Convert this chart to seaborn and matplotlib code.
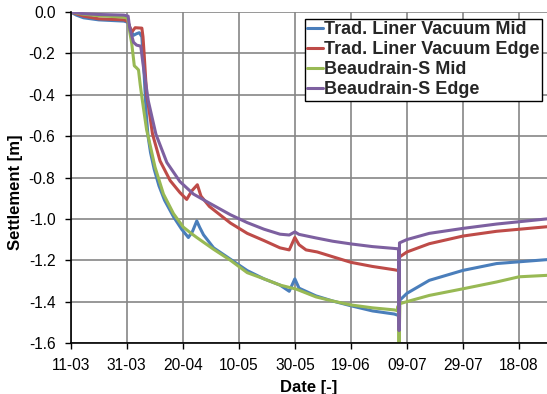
import numpy as np
import pandas as pd
import matplotlib
matplotlib.use("Agg")
import matplotlib.pyplot as plt
import matplotlib.ticker as mticker
import seaborn as sns

# ---- data (days after 11-03, settlement in m) ----
series_names = ["Trad. Liner Vacuum Mid", "Trad. Liner Vacuum Edge",
                "Beaudrain-S Mid", "Beaudrain-S Edge"]

blue_days = [0, 2, 4.6, 10, 19, 20.5, 21.5, 22.4, 23.5, 24.5, 25.4, 26.2, 27, 27.6, 28.5,
             29.8, 31.5, 33.5, 36.7, 39.6, 42, 43.5, 45, 46, 47.4, 51, 57, 63, 69, 74.7,
             78, 80, 81.5, 87.5, 93.5, 100, 107.7, 115.5, 117, 117.4, 120, 128, 140, 152, 170]
blue_vals = [0, -0.015, -0.028, -0.038, -0.044, -0.05, -0.09, -0.113, -0.105, -0.1, -0.12,
             -0.3, -0.5, -0.6, -0.68, -0.76, -0.84, -0.91, -0.99, -1.05, -1.09, -1.06, -1.01,
             -1.04, -1.077, -1.14, -1.195, -1.25, -1.29, -1.32, -1.35, -1.29, -1.335, -1.372,
             -1.397, -1.42, -1.445, -1.46, -1.467, -1.394, -1.36, -1.297, -1.249, -1.216, -1.197]

red_days = [0, 4.6, 10, 19, 20.3, 21.8, 23, 25.4, 25.8, 26.2, 27.1, 27.7, 29.2, 31.9, 35.5,
            39, 41.4, 43.2, 45.2, 46.5, 49.5, 57, 63, 69, 74.7, 78, 80, 81.5, 84, 88, 93.5,
            100, 107.7, 115.5, 117, 117.4, 120, 128, 140, 152, 170]
red_vals = [0, -0.02, -0.033, -0.038, -0.045, -0.097, -0.076, -0.078, -0.12, -0.2, -0.4,
            -0.45, -0.59, -0.72, -0.815, -0.873, -0.906, -0.865, -0.835, -0.89, -0.94, -1.02,
            -1.07, -1.105, -1.14, -1.15, -1.09, -1.125, -1.15, -1.16, -1.183, -1.21, -1.23,
            -1.246, -1.25, -1.184, -1.16, -1.12, -1.083, -1.06, -1.038]

green_days = [0, 4.6, 10, 19, 20.3, 21, 21.8, 22.7, 23.5, 24.2, 24.8, 25.6, 27.1, 27.8, 30.1,
              33.1, 36.7, 40.2, 43, 45, 51, 57, 63, 69, 74.7, 80.6, 87.5, 93.5, 100, 107.7,
              115.5, 116.5, 116.9, 117.2, 117.5, 120, 128, 140, 152, 160, 170]
green_vals = [0, -0.011, -0.018, -0.025, -0.03, -0.09, -0.154, -0.26, -0.27, -0.28, -0.35,
              -0.43, -0.57, -0.61, -0.75, -0.88, -0.975, -1.04, -1.07, -1.09, -1.147, -1.2,
              -1.26, -1.29, -1.32, -1.34, -1.377, -1.397, -1.416, -1.43, -1.44, -1.443, -1.42,
              -1.6, -1.41, -1.40, -1.37, -1.338, -1.305, -1.28, -1.273]

purple_days = [0, 4.6, 10, 19, 20.5, 21, 22.4, 23.5, 25, 26, 27.7, 30.4, 34.3, 39, 43.8, 49,
               51, 57, 63, 69, 74.7, 78, 80, 81.5, 87.5, 93.5, 100, 107.7, 115.5, 117, 117.2,
               117.35, 120, 128, 140, 152, 170]
purple_vals = [0, -0.008, -0.012, -0.015, -0.02, -0.073, -0.146, -0.16, -0.165, -0.27, -0.43,
               -0.59, -0.727, -0.82, -0.88, -0.92, -0.935, -0.98, -1.018, -1.05, -1.074,
               -1.078, -1.063, -1.075, -1.092, -1.108, -1.121, -1.134, -1.143, -1.145, -1.54,
               -1.116, -1.10, -1.07, -1.046, -1.025, -1.0]

tick_labels = ["11-03", "31-03", "20-04", "10-05", "30-05", "19-06", "09-07", "29-07", "18-08"]
colors = ["#4A7EBB", "#BE4B48", "#98B954", "#7D60A0"]

start = pd.Timestamp("2011-03-11")

frames = []
for name, d, v in zip(series_names,
                      [blue_days, red_days, green_days, purple_days],
                      [blue_vals, red_vals, green_vals, purple_vals]):
    frames.append(pd.DataFrame({
        "Date": start + pd.to_timedelta(np.array(d) * 86400, unit="s"),
        "Settlement": v,
        "Series": name,
    }))
df = pd.concat(frames, ignore_index=True)

sns.set_theme(style="white")
plt.rcParams["font.family"] = ["Liberation Sans", "DejaVu Sans"]
plt.rcParams["axes.unicode_minus"] = False

fig = plt.figure(figsize=(5.47, 3.94), dpi=100)
ax = fig.add_axes([70.7 / 547, 1 - 343 / 394, 1 - 70.7 / 547, (343 - 12) / 394])

sns.lineplot(data=df, x="Date", y="Settlement", hue="Series", hue_order=series_names,
             palette=colors, estimator=None, sort=False, linewidth=2.2, ax=ax, zorder=3)

ax.set_xlim(start, start + pd.Timedelta(days=170))
ax.set_ylim(-1.6, 0)
ticks = [start + pd.Timedelta(days=20 * i) for i in range(len(tick_labels))]
ax.set_xticks(ticks)
ax.set_xticklabels(tick_labels)
ax.set_yticks(np.arange(-1.6, 0.01, 0.2))
ax.yaxis.set_major_formatter(mticker.FuncFormatter(
    lambda v, p: "0.0" if abs(v) < 1e-9 else f"{v:.1f}"))

ax.grid(True, color="#868686", linewidth=1.2)
ax.set_axisbelow(True)
for s in ["top", "right"]:
    ax.spines[s].set_visible(False)
for s in ["left", "bottom"]:
    ax.spines[s].set_color("black")
    ax.spines[s].set_linewidth(1.2)
    ax.spines[s].set_zorder(4)
ax.tick_params(axis="both", direction="out", length=4, width=1.0, color="black",
               labelsize=11.2, labelcolor="black", bottom=True, left=True)
ax.tick_params(axis="x", pad=6.5)
ax.tick_params(axis="y", pad=7)

ax.set_xlabel("Date [-]", fontsize=12, fontweight="bold", color="black", labelpad=5)
ax.set_ylabel("Settlement [m]", fontsize=12, fontweight="bold", color="black",
              ha="center", va="center")
ax.yaxis.set_label_coords(15.5 / 547, 1 - 192 / 394, transform=fig.transFigure)

leg = ax.legend(loc="upper right", bbox_to_anchor=(542 / 547, 1 - 19 / 394),
                bbox_transform=fig.transFigure, frameon=True, fancybox=False,
                prop={"weight": "bold", "size": 13}, handlelength=0.9, handletextpad=0.05,
                labelspacing=0.17, borderpad=0.12, borderaxespad=0)
leg.get_frame().set_edgecolor("black")
leg.get_frame().set_linewidth(1.0)
leg.get_frame().set_alpha(1)
for line in leg.get_lines():
    line.set_linewidth(2.2)

fig.savefig("out.png", dpi=100)
